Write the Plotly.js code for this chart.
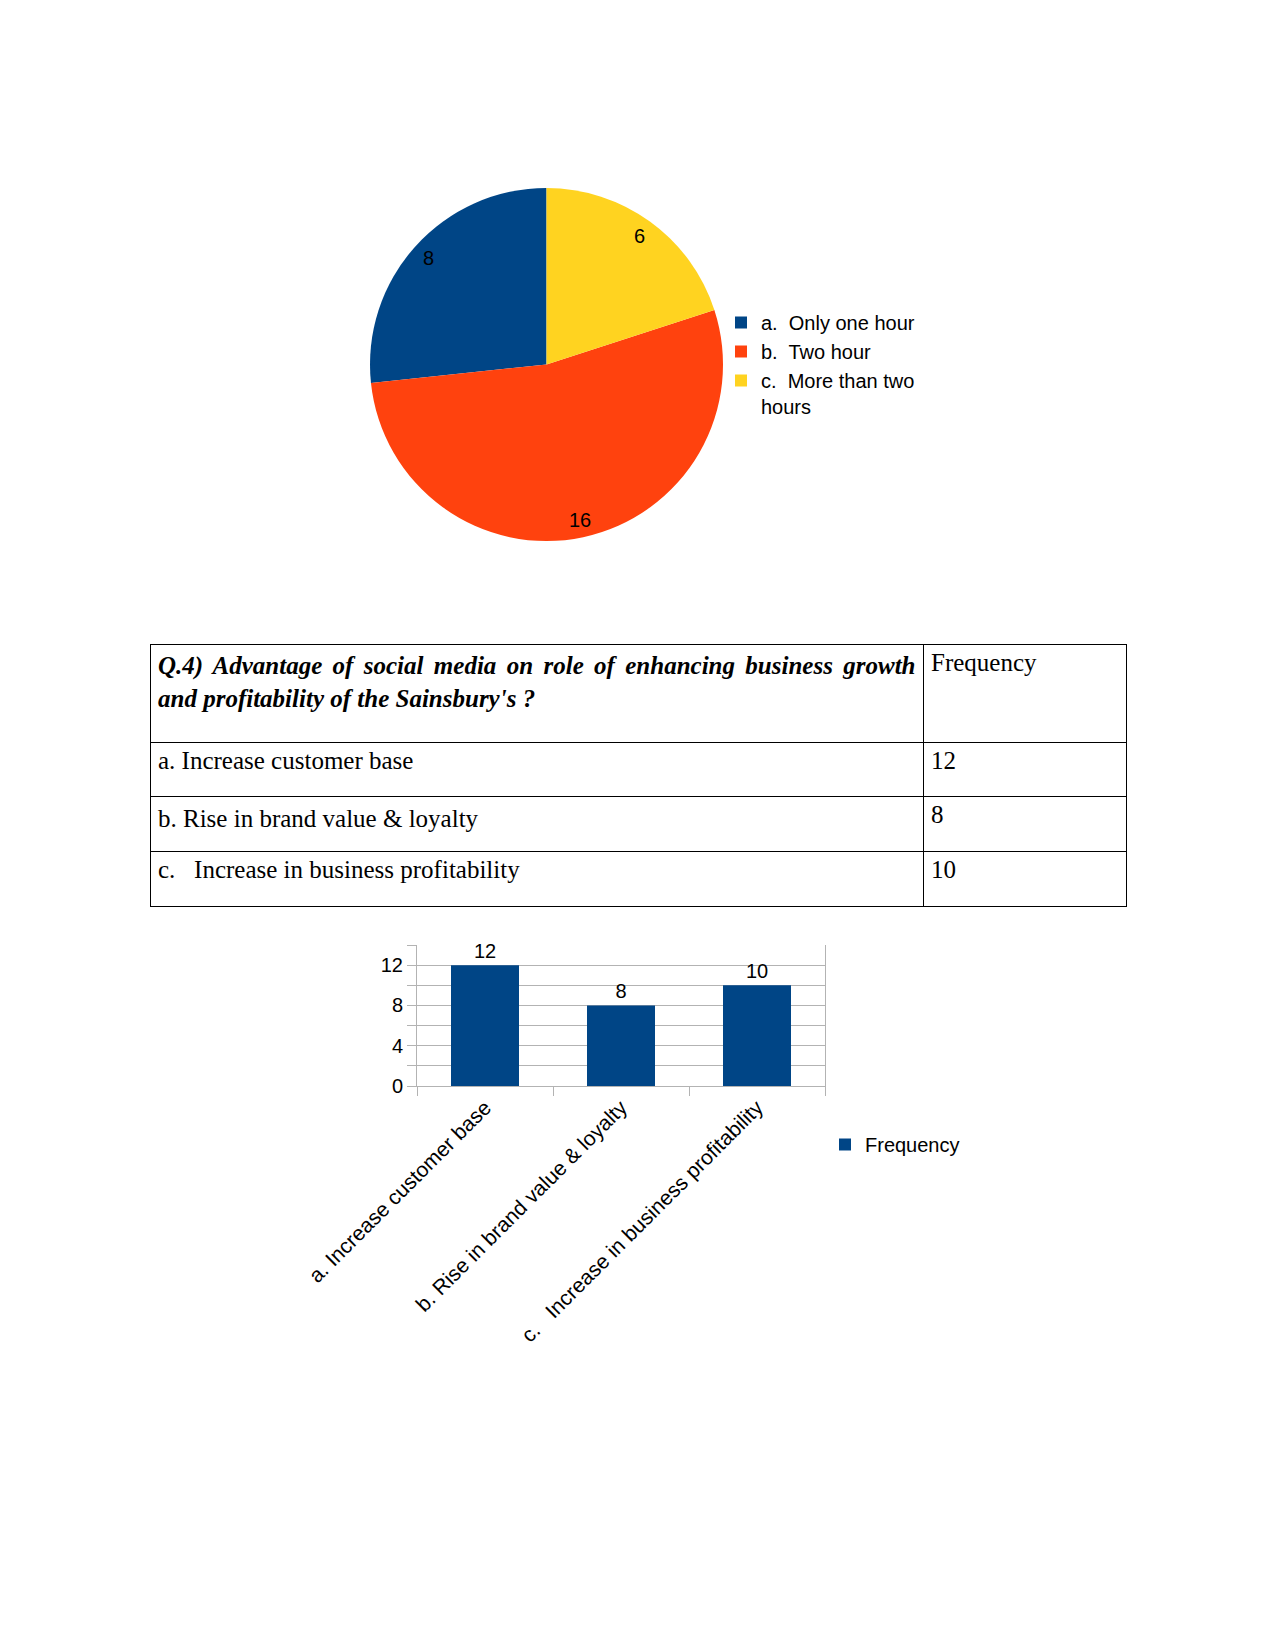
<!DOCTYPE html>
<html>
<head>
<meta charset="utf-8">
<script src="https://cdn.plot.ly/plotly-3.0.1.min.js"></script>
<style>html,body{margin:0;padding:0;background:#fff;}#chart{width:1275px;height:1650px;}</style>
</head>
<body>
<div id="chart"></div>
<script>
// ---- data ----
const pieLabels = ["a.\u00a0 Only one hour", "b.\u00a0 Two hour", "c.\u00a0 More than two<br>hours"];
const pieValues = [8, 16, 6];
const pieColors = ["#004586", "#ff420e", "#ffd320"];

const questionLine1 = "Q.4) Advantage of social media on role of enhancing business growth";
const questionLine2 = "and profitability of the Sainsbury's ?";
const freqHeader = "Frequency";
const categories = ["a. Increase customer base", "b. Rise in brand value & loyalty", "c.\u00a0\u00a0 Increase in business profitability"];
const frequencies = [12, 8, 10];
const yTicks = [0, 4, 8, 12];

// ---- layout helpers (pixel geometry of the page) ----
const W = 1275, H = 1650;
const fx = p => p / W;
const fy = p => 1 - p / H;

const PIE = {x0: 370, x1: 723, y0: 188, y1: 541};
const TABLE = {x0: 150, x1: 1126, y0: 644, y1: 910};
const BAR = {x0: 417, x1: 825, y0: 945, y1: 1086};

const sans = "Liberation Sans, Arial, sans-serif";
const serif = "Liberation Serif, Times New Roman, serif";
const grid = "#b3b3b3";

// pie: first slice starts at 12 o'clock and runs counter-clockwise
const total = pieValues.reduce((a, b) => a + b, 0);
const firstSliceDeg = pieValues[0] / total * 360;
const cx = (PIE.x0 + PIE.x1) / 2, cy = (PIE.y0 + PIE.y1) / 2;
const R = Math.min(PIE.x1 - PIE.x0, PIE.y1 - PIE.y0) / 2;
const annotations = [];
let cum = 0;
pieValues.forEach(v => {
  const mid = (90 + (cum + v / 2) / total * 360) * Math.PI / 180;
  cum += v;
  annotations.push({
    xref: "paper", yref: "paper",
    x: fx(cx + 0.9 * R * Math.cos(mid)),
    y: fy(cy - 0.9 * R * Math.sin(mid)),
    text: String(v), showarrow: false,
    xanchor: "center", yanchor: "middle",
    font: {family: sans, size: 20, color: "#000"}
  });
});

const pie = {
  type: "pie",
  labels: pieLabels,
  values: pieValues,
  sort: false,
  direction: "counterclockwise",
  rotation: -firstSliceDeg,
  marker: {colors: pieColors, line: {width: 0}},
  textinfo: "none",
  hoverinfo: "label+value",
  domain: {x: [fx(PIE.x0), fx(PIE.x1)], y: [fy(PIE.y1), fy(PIE.y0)]},
  legend: "legend",
  showlegend: true
};

const table = {
  type: "table",
  domain: {x: [fx(TABLE.x0), fx(TABLE.x1)], y: [fy(TABLE.y1), fy(TABLE.y0)]},
  columnwidth: [773, 203],
  header: {
    values: ["<b><i><span style=\"word-spacing:4.1px\">" + questionLine1 + "</span></i></b><br><b><i>" + questionLine2 + "</i></b>", freqHeader],
    align: "left",
    height: 98,
    line: {color: "#000", width: 1},
    fill: {color: "#fff"},
    font: {family: serif, size: 25, color: "#000"}
  },
  cells: {
    values: [categories, frequencies],
    align: "left",
    height: 54.7,
    line: {color: "#000", width: 1},
    fill: {color: "#fff"},
    font: {family: serif, size: 25, color: "#000"}
  }
};

const bar = {
  type: "bar",
  x: categories,
  y: frequencies,
  name: "Frequency",
  marker: {color: "#004586"},
  text: frequencies.map(String),
  textposition: "outside",
  textfont: {family: sans, size: 20, color: "#000"},
  cliponaxis: false,
  constraintext: "none",
  xaxis: "x", yaxis: "y",
  legend: "legend2",
  showlegend: true
};

const layout = {
  width: W, height: H,
  margin: {l: 0, r: 0, t: 0, b: 0, pad: 0},
  paper_bgcolor: "#fff",
  plot_bgcolor: "#fff",
  showlegend: true,
  bargap: 0.5,
  font: {family: sans, size: 20, color: "#000"},
  legend: {
    x: fx(721), y: fy(303), xanchor: "left", yanchor: "top",
    font: {family: sans, size: 20, color: "#000"},
    bgcolor: "rgba(0,0,0,0)", borderwidth: 0,
    valign: "top", traceorder: "normal"
  },
  legend2: {
    x: fx(825), y: fy(1125), xanchor: "left", yanchor: "top",
    font: {family: sans, size: 20, color: "#000"},
    bgcolor: "rgba(0,0,0,0)", borderwidth: 0
  },
  xaxis: {
    domain: [fx(BAR.x0), fx(BAR.x1)],
    anchor: "y",
    type: "category",
    tickson: "boundaries",
    ticks: "outside", ticklen: 9, tickcolor: grid, tickwidth: 1,
    showline: true, linecolor: grid, linewidth: 1,
    showgrid: false, zeroline: false,
    tickangle: -45,
    tickfont: {family: sans, size: 21, color: "#000"},
    automargin: false, fixedrange: true
  },
  yaxis: {
    domain: [fy(BAR.y1), fy(BAR.y0)],
    anchor: "x",
    range: [0, 14],
    tickvals: yTicks,
    ticks: "outside", ticklen: 9, tickcolor: grid, tickwidth: 1,
    showline: true, mirror: true, linecolor: grid, linewidth: 1,
    showgrid: true, gridcolor: grid, gridwidth: 1,
    zeroline: false,
    minor: {dtick: 2, showgrid: true, gridcolor: grid, ticks: "outside", ticklen: 9, tickcolor: grid},
    tickfont: {family: sans, size: 20, color: "#000"},
    automargin: false, fixedrange: true
  },
  annotations: annotations
};

Plotly.newPlot("chart", [pie, table, bar], layout, {displayModeBar: false, staticPlot: true});
</script>
</body>
</html>
